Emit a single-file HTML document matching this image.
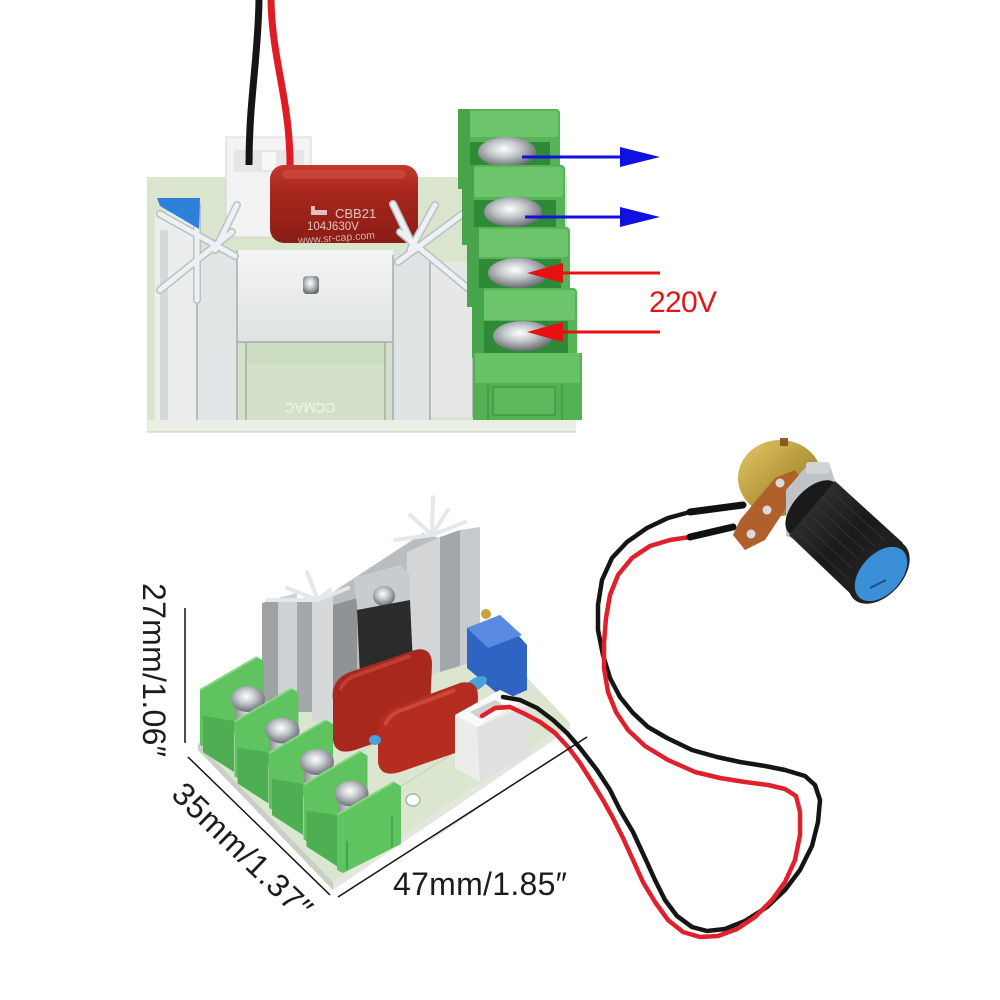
<!DOCTYPE html>
<html><head><meta charset="utf-8">
<style>html,body{margin:0;padding:0;background:#fff;}svg{display:block}</style>
</head><body>
<svg width="1000" height="1000" viewBox="0 0 1000 1000" xmlns="http://www.w3.org/2000/svg">
<defs>
 <radialGradient id="screw" cx="0.45" cy="0.4" r="0.6">
   <stop offset="0" stop-color="#ffffff"/><stop offset="0.45" stop-color="#c4c8cc"/><stop offset="1" stop-color="#6a6e72"/>
 </radialGradient>
 <linearGradient id="cyl" x1="0" y1="0" x2="1" y2="0">
   <stop offset="0" stop-color="#8c9094"/><stop offset="0.5" stop-color="#e8eaec"/><stop offset="1" stop-color="#8c9094"/>
 </linearGradient>
 <linearGradient id="cap" x1="0" y1="0" x2="0" y2="1">
   <stop offset="0" stop-color="#c23a2c"/><stop offset="0.35" stop-color="#a8271d"/><stop offset="1" stop-color="#8a1c14"/>
 </linearGradient>
 <linearGradient id="plate" x1="0" y1="0" x2="0" y2="1">
   <stop offset="0" stop-color="#f4f5f5"/><stop offset="1" stop-color="#dfe2e2"/>
 </linearGradient>
 <linearGradient id="brass" x1="0" y1="0" x2="1" y2="1">
   <stop offset="0" stop-color="#e2c86a"/><stop offset="0.5" stop-color="#b79a3c"/><stop offset="1" stop-color="#8a7a30"/>
 </linearGradient>
 <linearGradient id="knob" x1="0" y1="0" x2="1" y2="1">
   <stop offset="0" stop-color="#3a3a3a"/><stop offset="0.5" stop-color="#1a1a1a"/><stop offset="1" stop-color="#2a2a2a"/>
 </linearGradient>
</defs>
<rect width="1000" height="1000" fill="#fff"/>

<!-- ================= TOP BOARD ================= -->
<rect x="147" y="177" width="420" height="245" fill="#d9e5cd"/>
<rect x="147" y="420" width="429" height="12" fill="#eaeee4"/>
<line x1="147" y1="432" x2="576" y2="432" stroke="#c5ccbd" stroke-width="1"/>

<rect x="226" y="137" width="85" height="100" fill="#f3f3f3" stroke="#d4d4d4"/>
<rect x="234" y="150" width="70" height="22" fill="#e6e6e6"/>
<rect x="262" y="152" width="14" height="18" fill="#f8f8f8"/>
<path d="M259,0 C258,60 249,100 249,165" stroke="#151515" stroke-width="7" fill="none"/>
<path d="M271,0 C272,60 290,100 290,165" stroke="#e01b24" stroke-width="7" fill="none"/>

<rect x="270" y="165" width="148" height="78" rx="14" fill="url(#cap)"/>
<rect x="282" y="170" width="124" height="9" rx="4" fill="#d15546" opacity="0.5"/>
<path d="M311,210 h16 v5 h-16z M311,206 h4 v8 h-4z" fill="#e0c0bc"/>
<text x="335" y="218" font-family="Liberation Sans, sans-serif" font-size="13" fill="#e3c4c0">CBB21</text>
<text x="307" y="230" font-family="Liberation Sans, sans-serif" font-size="11.5" fill="#e3c4c0">104J630V</text>
<text x="298" y="241" font-family="Liberation Sans, sans-serif" font-size="10.5" fill="#d8b5b0" transform="rotate(-4 340 238)">www.sr-cap.com</text>

<rect x="155" y="212" width="42" height="208" fill="#eceeee"/>
<rect x="160" y="230" width="8" height="190" fill="#d5d9da"/>
<rect x="197" y="255" width="40" height="165" fill="#e2e5e5"/>
<rect x="237" y="250" width="156" height="92" fill="url(#plate)"/>
<rect x="237" y="342" width="156" height="78" fill="#d3e1c8"/>
<rect x="245" y="342" width="140" height="22" fill="#c8d8bc" opacity="0.6"/>
<rect x="393" y="255" width="37" height="165" fill="#e0e3e3"/>
<rect x="430" y="262" width="43" height="155" fill="#e6e8e8"/>
<g stroke="#a6abae" stroke-width="1.5">
 <line x1="197" y1="230" x2="197" y2="420"/>
 <line x1="237" y1="250" x2="237" y2="420"/>
 <line x1="246" y1="342" x2="246" y2="420"/>
 <line x1="385" y1="342" x2="385" y2="420"/>
 <line x1="393" y1="255" x2="393" y2="420"/>
 <line x1="430" y1="262" x2="430" y2="420"/>
 <line x1="473" y1="262" x2="473" y2="417"/>
 <line x1="237" y1="342" x2="393" y2="342"/>
</g>
<g stroke="#b9c0c6" stroke-width="8" stroke-linecap="round" fill="none">
 <path d="M160,214 L235,256 M160,290 L232,232 M237,205 L215,250 M197,205 L197,300"/>
 <path d="M393,204 L415,250 M435,205 L410,250 M472,207 L398,262 M470,290 L400,232"/>
</g>
<g stroke="#edf1f4" stroke-width="5" stroke-linecap="round" fill="none">
 <path d="M160,214 L235,256 M160,290 L232,232 M237,205 L215,250 M197,205 L197,300"/>
 <path d="M393,204 L415,250 M435,205 L410,250 M472,207 L398,262 M470,290 L400,232"/>
</g>
<rect x="303" y="276" width="16" height="18" rx="4" fill="url(#screw)"/>
<polygon points="157,198 200,198 199,229 160,206" fill="#2f80d8"/>
<text x="310" y="413" font-family="Liberation Sans, sans-serif" font-size="14" fill="#f3f5f0" text-anchor="middle" transform="rotate(180 310 408)">CCMAC</text>

<g>
 <rect x="458" y="109" width="102" height="80" rx="4" fill="#55b455"/>
 <rect x="460" y="111" width="98" height="26" rx="3" fill="#6cc56a"/>
 <rect x="458" y="109" width="12" height="80" fill="#48a44b"/>
 <rect x="470" y="142" width="80" height="26" fill="#2f8a38"/>
 <ellipse cx="507" cy="152" rx="29" ry="15" fill="url(#screw)"/>

 <rect x="462" y="165" width="103" height="80" rx="4" fill="#55b455"/>
 <rect x="464" y="167" width="99" height="30" rx="3" fill="#6cc56a"/>
 <rect x="462" y="165" width="12" height="80" fill="#48a44b"/>
 <rect x="474" y="200" width="82" height="28" fill="#2f8a38"/>
 <ellipse cx="513" cy="212" rx="29" ry="15" fill="url(#screw)"/>

 <rect x="467" y="227" width="103" height="80" rx="4" fill="#55b455"/>
 <rect x="469" y="229" width="99" height="28" rx="3" fill="#6cc56a"/>
 <rect x="467" y="227" width="12" height="80" fill="#48a44b"/>
 <rect x="479" y="259" width="82" height="30" fill="#2f8a38"/>
 <ellipse cx="518" cy="273" rx="30" ry="15" fill="url(#screw)"/>

 <rect x="472" y="288" width="105" height="70" rx="4" fill="#55b455"/>
 <rect x="474" y="290" width="101" height="30" rx="3" fill="#6cc56a"/>
 <rect x="472" y="288" width="12" height="70" fill="#48a44b"/>
 <rect x="484" y="321" width="84" height="32" fill="#2f8a38"/>
 <ellipse cx="523" cy="336" rx="30" ry="15" fill="url(#screw)"/>

 <rect x="473" y="353" width="109" height="67" fill="#52b152"/>
 <rect x="475" y="353" width="105" height="30" fill="#66c264"/>
 <rect x="493" y="387" width="62" height="28" fill="#5cba5c" stroke="#3f9a44" stroke-width="1.5"/>
 <line x1="488" y1="385" x2="488" y2="420" stroke="#3f9a44" stroke-width="1.5"/>
 <line x1="562" y1="385" x2="562" y2="420" stroke="#3f9a44" stroke-width="1.5"/>
</g>

<g>
 <line x1="522" y1="157" x2="625" y2="157" stroke="#1010e0" stroke-width="3"/>
 <polygon points="620,147 660,157 620,167" fill="#1010e0"/>
 <line x1="525" y1="217" x2="625" y2="217" stroke="#1010e0" stroke-width="3"/>
 <polygon points="620,207 660,217 620,227" fill="#1010e0"/>
 <line x1="560" y1="273" x2="660" y2="273" stroke="#e81010" stroke-width="3"/>
 <polygon points="563,263 527,273 563,283" fill="#e81010"/>
 <line x1="560" y1="332" x2="660" y2="332" stroke="#e81010" stroke-width="3"/>
 <polygon points="563,322 527,332 563,342" fill="#e81010"/>
 <text x="649" y="312" font-family="Liberation Sans, sans-serif" font-size="30" fill="#e51515" textLength="68">220V</text>
</g>

<!-- ================= BOTTOM BOARD ================= -->
<polygon points="198,743 438,583 570,723 333,882" fill="#dbe6d0"/>
<polygon points="198,743 333,882 333,890 198,750" fill="#c9cfc3"/>
<polygon points="333,882 570,723 570,729 333,890" fill="#e3e7de"/>
<g stroke="#c5d0bb" stroke-width="1" fill="none">
 <path d="M380,800 L470,742 M430,840 L520,780 M300,790 L380,740"/>
</g>

<polygon points="333,592 423,533 445,540 445,665 333,705" fill="#babdc0"/>
<polygon points="262,603 278,598 278,705 262,705" fill="#9ea2a5"/>
<polygon points="278,598 297,593 297,708 278,708" fill="#cfd1d3"/>
<polygon points="297,600 312,596 312,712 297,712" fill="#a4a8ab"/>
<polygon points="312,598 333,592 333,722 312,722" fill="#d6d8da"/>
<polygon points="333,605 357,598 357,735 333,735" fill="#8f9396"/>
<polygon points="407,552 440,537 440,672 407,682" fill="#d3d5d7"/>
<polygon points="440,537 460,530 460,666 440,672" fill="#a3a7aa"/>
<polygon points="460,530 480,527 480,660 460,666" fill="#c8cbcd"/>
<polygon points="353,578 400,565 410,575 410,605 358,612" fill="#c9cccf"/>
<ellipse cx="384" cy="596" rx="11" ry="10" fill="url(#screw)"/>
<polygon points="357,610 410,600 413,665 360,676" fill="#2b2b2b"/>
<g stroke="#e4e8eb" stroke-width="4" stroke-linecap="round" fill="none">
 <path d="M318,600 L307,572 M318,600 L287,588 M318,600 L268,600 M318,600 L348,588 M318,600 L330,590"/>
 <path d="M432,535 L433,497 M432,535 L410,515 M432,535 L448,510 M432,535 L465,522 M432,535 L395,540"/>
</g>
<polygon points="467,628 500,615 527,645 527,690 505,700 467,668" fill="#2f63c4"/>
<polygon points="467,628 500,615 522,635 488,648" fill="#5a8be0"/>
<circle cx="486" cy="614" r="5" fill="#c8a040"/>
<path d="M333,700 Q330,680 350,672 L415,650 Q432,646 432,665 L430,710 Q428,725 410,731 L355,750 Q335,756 333,740 Z" fill="#a8281e"/>
<path d="M340,690 Q345,678 360,674 L410,656" stroke="#c9493a" stroke-width="4" fill="none" opacity="0.7"/>
<ellipse cx="476" cy="684" rx="12" ry="6" transform="rotate(-30 476 684)" fill="#4aa0d8"/>
<path d="M378,735 Q376,715 395,707 L460,683 Q478,679 478,697 L476,735 Q474,748 458,752 L400,772 Q380,778 378,762 Z" fill="#b52c20"/>
<path d="M385,725 Q390,713 405,709 L455,690" stroke="#d05545" stroke-width="4" fill="none" opacity="0.7"/>
<ellipse cx="375" cy="740" rx="6" ry="5" fill="#4aa0d8"/>
<polygon points="455,715 500,690 530,705 530,755 480,782 455,768" fill="#ececec"/>
<polygon points="455,715 500,690 522,701 477,727" fill="#fafafa"/>
<polygon points="477,727 530,705 530,755 480,782" fill="#e0e0e0"/>
<polygon points="470,712 495,700 505,706 480,719" fill="#d0d0d0"/>
<ellipse cx="413" cy="800" rx="7" ry="6" fill="#ffffff" stroke="#aab5a2" stroke-width="1.5"/>

<!-- terminal blocks bottom -->
<g>
 <g>
  <polygon points="200,690 257,657 264,661 264,719 206,748 200,745" fill="#5fc35f"/>
  <line x1="200" y1="690" x2="257" y2="657" stroke="#8ad686" stroke-width="2"/>
  <rect x="235" y="700" width="26" height="24" fill="url(#cyl)"/>
  <ellipse cx="248" cy="699" rx="17" ry="13" fill="url(#screw)"/>
  <polygon points="203,716 234,721 234,772 203,752" fill="#4dae52"/>
 </g>
 <g transform="translate(34.5,31.5)">
  <polygon points="200,690 257,657 264,661 264,719 206,748 200,745" fill="#5fc35f"/>
  <line x1="200" y1="690" x2="257" y2="657" stroke="#8ad686" stroke-width="2"/>
  <rect x="235" y="700" width="26" height="24" fill="url(#cyl)"/>
  <ellipse cx="248" cy="699" rx="17" ry="13" fill="url(#screw)"/>
  <polygon points="203,716 234,721 234,772 203,752" fill="#4dae52"/>
 </g>
 <g transform="translate(69,63)">
  <polygon points="200,690 257,657 264,661 264,719 206,748 200,745" fill="#5fc35f"/>
  <line x1="200" y1="690" x2="257" y2="657" stroke="#8ad686" stroke-width="2"/>
  <rect x="235" y="700" width="26" height="24" fill="url(#cyl)"/>
  <ellipse cx="248" cy="699" rx="17" ry="13" fill="url(#screw)"/>
  <polygon points="203,716 234,721 234,772 203,752" fill="#4dae52"/>
 </g>
 <g transform="translate(103.5,94.5)">
  <polygon points="200,690 257,657 264,661 264,719 206,748 200,745" fill="#5fc35f"/>
  <line x1="200" y1="690" x2="257" y2="657" stroke="#8ad686" stroke-width="2"/>
  <rect x="235" y="700" width="26" height="24" fill="url(#cyl)"/>
  <ellipse cx="248" cy="699" rx="17" ry="13" fill="url(#screw)"/>
  <polygon points="203,716 234,721 234,772 203,752" fill="#4dae52"/>
 </g>
 <g transform="translate(137,125)">
  <polygon points="200,690 257,657 264,661 264,719 206,748 200,745" fill="#5fc35f"/>
  <line x1="200" y1="690" x2="257" y2="657" stroke="#8ad686" stroke-width="2"/>
  <line x1="210" y1="716" x2="210" y2="745" stroke="#3f9a44" stroke-width="1.5"/>
  <line x1="255" y1="690" x2="255" y2="722" stroke="#3f9a44" stroke-width="1.5"/>
 </g>
</g>

<!-- wires bottom -->
<polyline fill="none" stroke="#151515" stroke-width="4.5" stroke-linejoin="round" stroke-linecap="round"
 points="503,697 520,700 537,708 553,720 567,733 580,748 597,770 610,790 620,810 633,832 645,858 655,880 665,900 677,916 692,927 707,931 725,929 745,921 767,907 785,890 800,870 812,846 818,822 820,800 815,785 805,776 785,770 765,766 740,762 717,757 692,750 667,738 648,727 633,713 620,697 610,678 603,655 598,630 598,605 602,580 612,558 627,542 647,528 668,518 690,512"/>
<polyline fill="none" stroke="#e0202a" stroke-width="4.5" stroke-linejoin="round" stroke-linecap="round"
 points="482,716 495,708 510,707 525,714 540,722 555,733 568,747 580,763 592,782 603,800 613,818 623,838 633,860 643,882 655,902 668,920 683,932 700,937 718,936 737,929 755,917 772,900 785,882 795,860 800,835 800,812 796,796 785,789 768,785 745,782 720,778 695,772 668,760 645,746 628,730 616,712 608,692 604,668 604,643 606,618 610,595 618,575 632,558 650,546 670,540 690,537"/>
<line x1="690" y1="512" x2="743" y2="505" stroke="#111" stroke-width="7" stroke-linecap="round"/>
<line x1="690" y1="537" x2="733" y2="527" stroke="#111" stroke-width="7" stroke-linecap="round"/>

<!-- potentiometer -->
<ellipse cx="780" cy="478" rx="42" ry="38" fill="url(#brass)"/>
<rect x="780" y="438" width="8" height="8" fill="#8a5a20"/>
<polygon points="733,535 740,520 775,478 795,470 802,480 790,502 765,540 745,550" fill="#b0602a"/>
<circle cx="780" cy="483" r="4.5" fill="#d8dadc"/>
<circle cx="767" cy="510" r="4.5" fill="#d8dadc"/>
<circle cx="751" cy="534" r="4.5" fill="#d8dadc"/>
<polygon points="786,490 805,468 830,466 838,490 802,542 786,536" fill="#bfc3c7"/>
<rect x="806" y="462" width="24" height="12" rx="3" fill="#cfd3d6"/>
<ellipse cx="812" cy="508" rx="18" ry="34" transform="rotate(42.7 812 508)" fill="#1a1a1a"/>
<polygon points="835,481 903,543 857,600 789,535" fill="url(#knob)"/>
<g stroke="#3c3c3c" stroke-width="1" opacity="0.7">
 <line x1="830" y1="490" x2="895" y2="550"/><line x1="823" y1="498" x2="888" y2="558"/>
 <line x1="816" y1="506" x2="881" y2="566"/><line x1="809" y1="514" x2="874" y2="574"/>
 <line x1="802" y1="522" x2="867" y2="582"/><line x1="795" y1="530" x2="860" y2="590"/>
</g>
<ellipse cx="879" cy="572" rx="24" ry="37" transform="rotate(42.7 879 572)" fill="#202020"/>
<ellipse cx="881" cy="574" rx="20" ry="32" transform="rotate(42.7 881 574)" fill="#3a8fd6"/>
<line x1="870" y1="588" x2="886" y2="580" stroke="#1d4f86" stroke-width="2"/>

<!-- dimension lines -->
<g stroke="#111" stroke-width="1.5">
 <line x1="185" y1="608" x2="185" y2="743"/>
 <line x1="188" y1="757" x2="330" y2="895"/>
 <line x1="338" y1="897" x2="587" y2="737"/>
</g>
<g font-family="Liberation Sans, sans-serif" font-size="32" fill="#1c1c1c">
 <text transform="translate(143,583) rotate(90)" textLength="174">27mm/1.06″</text>
 <text transform="translate(170,796) rotate(44)" textLength="180">35mm/1.37″</text>
 <text x="393" y="895" textLength="174">47mm/1.85″</text>
</g>
</svg>
</body></html>
